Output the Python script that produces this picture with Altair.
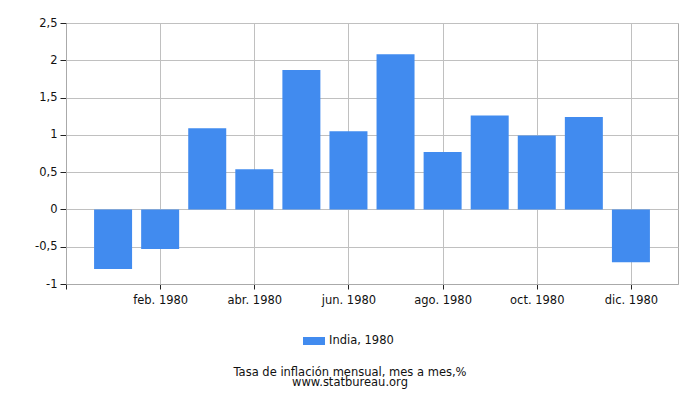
import altair as alt
import pandas as pd

months = list(range(1, 13))
values = [-0.8, -0.53, 1.09, 0.54, 1.87, 1.05, 2.08, 0.77, 1.26, 0.99, 1.24, -0.71]
tick_months = [0, 2, 4, 6, 8, 10, 12]
tick_labels = ["", "feb. 1980", "abr. 1980", "jun. 1980", "ago. 1980", "oct. 1980", "dic. 1980"]
series_name = "India, 1980"

df = pd.DataFrame({"month": months, "value": values, "series": [series_name] * 12})

label_map = "{" + ",".join(f"'{m}':'{l}'" for m, l in zip(tick_months, tick_labels)) + "}"

FONT = "DejaVu Sans"
FS = 11.5

chart = (
    alt.Chart(df)
    .mark_bar(width=38, color="#418BEF")
    .encode(
        x=alt.X(
            "month:Q",
            scale=alt.Scale(domain=[0, 13], nice=False, zero=False, padding=0),
            axis=alt.Axis(
                values=tick_months,
                labelExpr=f"{label_map}[''+datum.value]",
                title=None,
                grid=True,
                gridColor="#C0C0C0",
                domainColor="#AAAAAA",
                tickColor="#222222",
                tickSize=5,
                labelPadding=5,
                labelFontSize=FS,
                labelFont=FONT,
                labelColor="#111111",
            ),
        ),
        y=alt.Y(
            "value:Q",
            scale=alt.Scale(domain=[-1, 2.5], nice=False),
            axis=alt.Axis(
                values=[-1, -0.5, 0, 0.5, 1, 1.5, 2, 2.5],
                labelExpr="replace(toString(datum.value), '.', ',')",
                title=None,
                grid=True,
                gridColor="#C0C0C0",
                domainColor="#AAAAAA",
                tickColor="#222222",
                tickSize=6,
                labelPadding=3,
                labelFontSize=FS,
                labelFont=FONT,
                labelColor="#111111",
            ),
        ),
        color=alt.Color(
            "series:N",
            scale=alt.Scale(range=["#418BEF"]),
            legend=alt.Legend(
                title=None,
                orient="none",
                legendX=237,
                legendY=307,
                symbolType="M-1,-0.364H1V0.364H-1Z",
                symbolSize=484,
                symbolStrokeWidth=0,
                labelFontSize=FS,
                labelFont=FONT,
                labelColor="#111111",
                symbolOpacity=1,
            ),
        ),
    )
    .properties(
        width=612,
        height=261,
        autosize=alt.AutoSizeParams(type="none"),
        padding={"left": 58, "top": 15, "right": 14, "bottom": 105},
        title=alt.TitleParams(
            text=["Tasa de inflación mensual, mes a mes,%", "www.statbureau.org"],
            orient="bottom",
            anchor="middle",
            fontSize=FS,
            fontWeight="normal",
            font=FONT,
            color="#111111",
            lineHeight=10,
            offset=20,
            dx=-22,
        ),
    )
    .configure_view(stroke="#AAAAAA")
)

chart.save("out.html", embed_options={"renderer": "svg", "actions": False})
